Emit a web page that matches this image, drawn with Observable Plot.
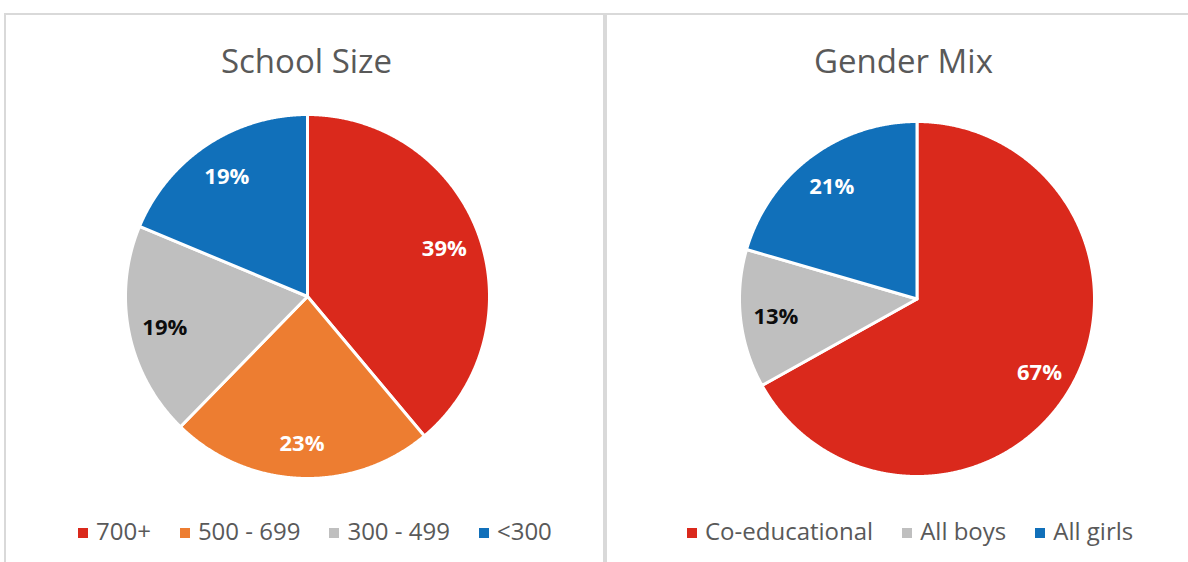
<!DOCTYPE html>
<html>
<head>
<meta charset="utf-8">
<script src="https://cdn.jsdelivr.net/npm/d3@7"></script>
<script src="https://cdn.jsdelivr.net/npm/@observablehq/plot@0.6"></script>
<style>
  html, body { margin: 0; padding: 0; background: #fff; }
  #wrap { position: relative; width: 1188px; height: 562px; overflow: hidden; background: #fff; font-family: "Open Sans", sans-serif; }
  .panel { position: absolute; top: 13px; height: 620px; border: 2px solid #d9d9d9; box-sizing: border-box; background: #fff; }
  .title { position: absolute; top: 44px; text-align: center; font-size: 33px; line-height: 33px; color: #595959; white-space: nowrap; }
  .legend { position: absolute; top: 515px; display: flex; align-items: center; font-size: 24px; line-height: 32px; color: #595959; white-space: nowrap; }
  .legend .item { display: flex; align-items: center; margin-right: 29px; }
  .legend .sw { width: 10px; height: 10px; margin-right: 8px; position: relative; top: 2px; }
  .chart { position: absolute; top: 0; }
  .chart svg { display: block; }
</style>
</head>
<body>
<div id="wrap">
  <div class="panel" style="left:4px;width:601px"></div>
  <div class="panel" style="left:605px;width:600px"></div>
  <div class="title" style="left:4px;width:605px">School Size</div>
  <div class="title" style="left:605px;width:597px">Gender Mix</div>
  <div class="chart" id="chartL" style="left:0px"></div>
  <div class="chart" id="chartR" style="left:604px"></div>
  <div class="legend" id="legL" style="left:78px"></div>
  <div class="legend" id="legR" style="left:687px"></div>
</div>
<script>
// ---- Data ----
const sizeCategories = ["700+", "500 - 699", "300 - 499", "<300"];
const sizeValues = [38.9, 23.4, 19.0, 18.7];
const genderCategories = ["Co-educational", "All boys", "All girls"];
const genderValues = [66.9, 12.6, 20.5];

// ---- Styles ----
const RED = "#DA291C", ORANGE = "#ED7D31", GRAY = "#BFBFBF", BLUE = "#1170BA";
const sizeColors = [RED, ORANGE, GRAY, BLUE];
const genderColors = [RED, GRAY, BLUE];

function buildPie(cats, vals) {
  const arcs = d3.pie().sort(null).value(d => d)(vals);
  const total = d3.sum(vals);
  const pts = [];
  const labels = [];
  arcs.forEach((a, i) => {
    const span = a.endAngle - a.startAngle;
    const n = Math.max(2, Math.ceil(span / 0.005));
    pts.push({cat: cats[i], x: 0, y: 0});
    for (let k = 0; k <= n; k++) {
      const t = a.startAngle + span * k / n;
      pts.push({cat: cats[i], x: Math.sin(t), y: Math.cos(t)});
    }
    const m = (a.startAngle + a.endAngle) / 2;
    labels.push({cat: cats[i], x: 0.8 * Math.sin(m), y: 0.8 * Math.cos(m),
      text: Math.round(vals[i] / total * 100) + "%"});
  });
  return {pts, labels};
}

function drawPie(el, cats, vals, colors, W, H, cx, cy, r) {
  const {pts, labels} = buildPie(cats, vals);
  const darkCat = cats.filter((c, i) => colors[i] === GRAY);
  const svg = Plot.plot({
    width: W, height: H, margin: 0,
    style: {background: "transparent", fontFamily: "'Open Sans', sans-serif", overflow: "visible"},
    x: {domain: [-1, 1], range: [cx - r, cx + r], axis: null},
    y: {domain: [-1, 1], range: [cy + r, cy - r], axis: null},
    color: {domain: cats, range: colors},
    marks: [
      Plot.line(pts, {x: "x", y: "y", z: "cat", fill: "cat", stroke: "white", strokeWidth: 3,
        strokeLinejoin: "round", curve: "linear-closed"}),
      Plot.text(labels.filter(d => !darkCat.includes(d.cat)), {x: "x", y: "y", text: "text",
        fill: "white", fontSize: 22, fontWeight: "bold", dy: 2}),
      Plot.text(labels.filter(d => darkCat.includes(d.cat)), {x: "x", y: "y", text: "text",
        fill: "#0d0d0d", fontSize: 22, fontWeight: "bold", dy: 2})
    ]
  });
  document.getElementById(el).appendChild(svg);
}

function drawLegend(el, cats, colors) {
  const box = document.getElementById(el);
  cats.forEach((c, i) => {
    const it = document.createElement("div");
    it.className = "item";
    const sw = document.createElement("span");
    sw.className = "sw";
    sw.style.background = colors[i];
    const tx = document.createElement("span");
    tx.textContent = c;
    it.appendChild(sw); it.appendChild(tx);
    box.appendChild(it);
  });
}

drawPie("chartL", sizeCategories, sizeValues, sizeColors, 604, 562, 307, 296, 182);
drawPie("chartR", genderCategories, genderValues, genderColors, 584, 562, 312.5, 298.5, 177.5);
drawLegend("legL", sizeCategories, sizeColors);
drawLegend("legR", genderCategories, genderColors);
</script>
</body>
</html>
